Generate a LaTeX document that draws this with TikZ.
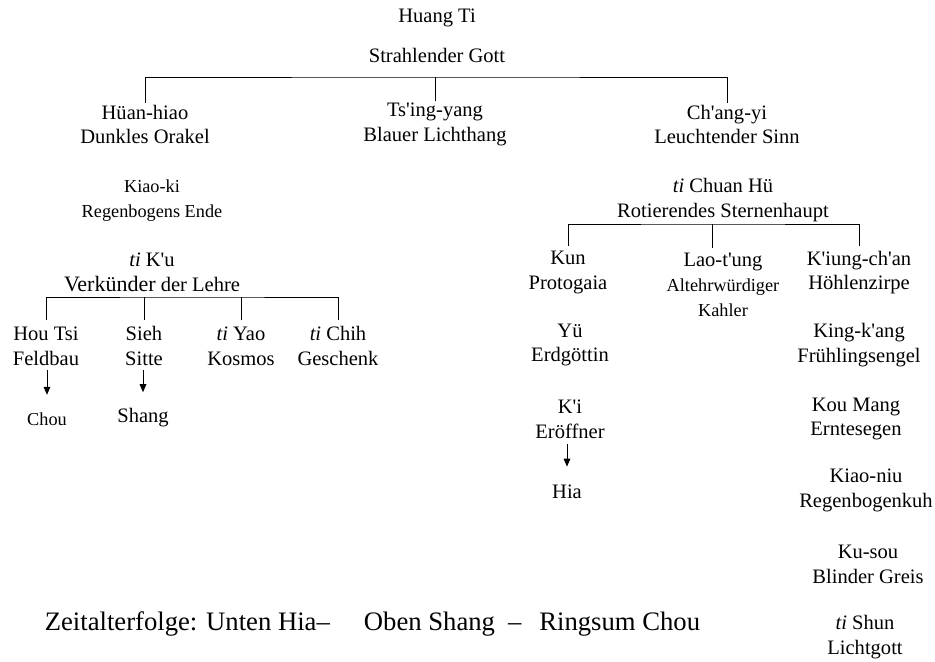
\documentclass[tikz,border=0pt]{standalone}
\usepackage{fontspec}
\setmainfont{Liberation Serif}[Ligatures=TeXOff]
\usetikzlibrary{arrows.meta}

\begin{document}
\begin{tikzpicture}[x=0.75pt,y=-0.75pt,line width=0.7pt,
  every node/.style={align=center,inner sep=1pt},
  txt/.style={font=\fontsize{15.4}{18.5}\selectfont},
  sml/.style={font=\fontsize{13.7}{18.5}\selectfont},
  arr/.style={-{Triangle[length=6pt,width=5pt]}}]

\useasboundingbox (0,0) rectangle (935,661);

\node[txt] (huang) at (437,18) {Huang Ti};
\node[txt] (strahl) at (437,55) {Strahlender Gott};

\node[txt] (huan) at (145,124.5) {Hüan-hiao\\Dunkles Orakel};
\node[txt] (tsing) at (435,124.5) {Ts'ing-yang\\Blauer Lichthang};
\node[txt] (chang) at (727,124.5) {Ch'ang-yi\\Leuchtender Sinn};

\coordinate (bar1) at (435,77);
\draw (huan.north) |- (bar1) -| (chang.north);
\draw (tsing.north) -- (tsing.north |- bar1);

% linke Linie
\node[sml] (kiaoki) at (152,200.5) {Kiao-ki\\Regenbogens Ende};
\node[txt] (ku) at (152,272.5) {\textit{ti} K'u\\{\fontsize{16.5}{18.5}\selectfont Verkünder} der Lehre};

\node[txt] (hou) at (46,346) {Hou Tsi\\Feldbau};
\node[txt] (sieh) at (144,346) {Sieh\\Sitte};
\node[txt] (yao) at (241,346) {\textit{ti} Yao\\Kosmos};
\node[txt] (chih) at (338,346) {\textit{ti} Chih\\Geschenk};

\coordinate (bar2) at (192,297);
\draw[shorten <=3.5pt,shorten >=3.5pt] (hou.north) |- (bar2) -| (chih.north);
\draw[shorten <=3.5pt] (sieh.north) -- (sieh.north |- bar2);
\draw[shorten <=3.5pt] (yao.north) -- (yao.north |- bar2);

\node[sml] (chou) at (47,419) {Chou};
\node[txt] (shang) at (143,418) {Shang};
\draw[arr,shorten <=2pt,shorten >=12pt] (hou.south -| chou.north) -- (chou.north);
\draw[arr,shorten <=2pt,shorten >=11pt] (sieh.south -| shang.north) -- (shang.north);

% rechte Linie
\node[txt] (chuan) at (723,200) {\textit{ti} Chuan Hü\\Rotierendes Sternenhaupt};

\node[txt] (kun) at (568,272.5) {Kun\\Protogaia};
\node[txt] (lao) at (723,285) {Lao-t'ung\\{\fontsize{13.7}{18.5}\selectfont Altehrwürdiger}\\{\fontsize{13.7}{18.5}\selectfont Kahler}};
\node[txt] (kiung) at (859,272.5) {K'iung-ch'an\\Höhlenzirpe};

\coordinate (bar3) at (712,224);
\draw[shorten <=2.5pt,shorten >=2.5pt] (kun.north) |- (bar3) -| (kiung.north);
\draw[shorten >=2.5pt] (bar3) -- (bar3 |- lao.north);

\node[txt] (yue) at (570,345) {Yü\\Erdgöttin};
\node[txt] (ki) at (570,419) {K'i\\Eröffner};
\node[txt] (hia) at (567,492) {Hia};
\draw[arr,shorten <=2.8pt,shorten >=12.5pt] (ki.south -| hia.north) -- (hia.north);

\node[txt] (king) at (859,345) {King-k'ang\\Frühlingsengel};
\node[txt] (kou) at (856,419) {Kou Mang\\Erntesegen};
\node[txt] (kiaoniu) at (866,490.5) {Kiao-niu\\Regenbogenkuh};
\node[txt] (kusou) at (868,564.5) {Ku-sou\\Blinder Greis};
\node[txt] (shun) at (865,637) {\textit{ti} Shun\\Lichtgott};

\node[font=\fontsize{20}{24}\selectfont,anchor=base west] (zeit) at (43,630)
  {Zeitalterfolge: Unten Hia–\hspace{25.5pt}Oben Shang\hspace{9.75pt}–\hspace{13.5pt}Ringsum Chou};

\end{tikzpicture}
\end{document}
